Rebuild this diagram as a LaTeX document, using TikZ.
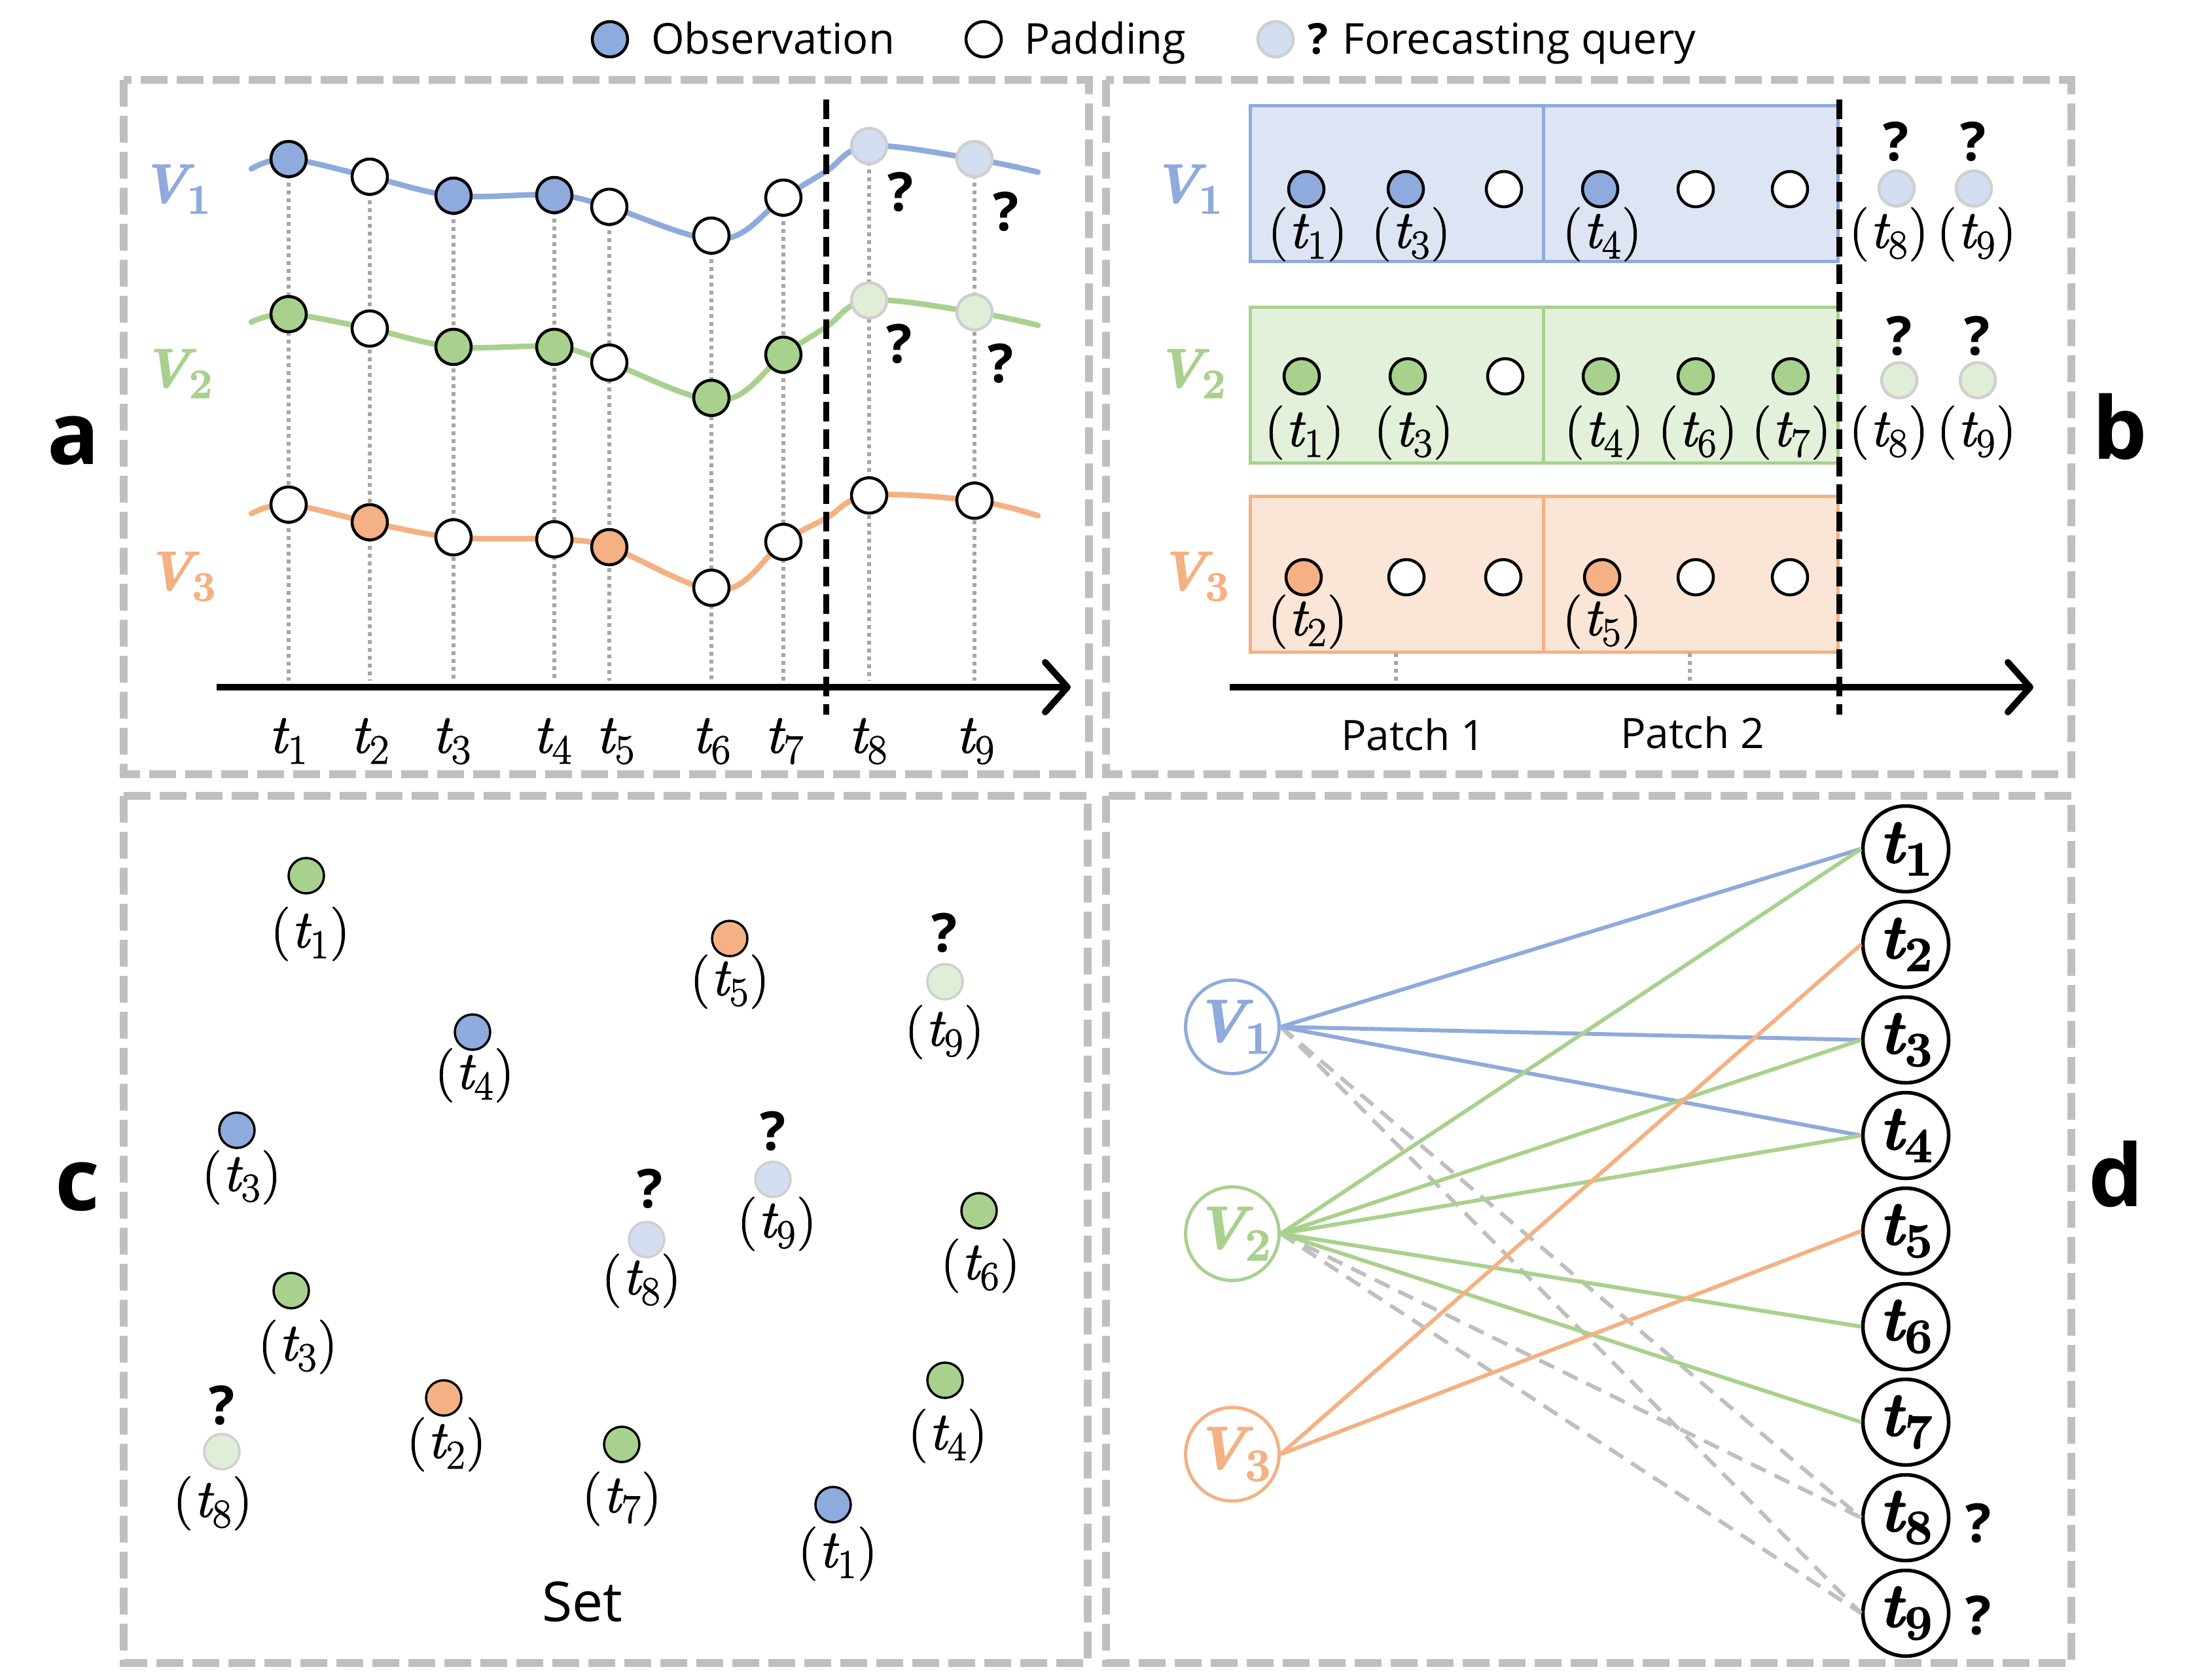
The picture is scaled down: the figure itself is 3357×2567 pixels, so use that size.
\documentclass[tikz,border=0pt]{standalone}
\usepackage{fontspec}
\newfontfamily\osans{Open Sans}
\newfontfamily\lmf[FakeBold=1.6]{Latin Modern Roman}
\usetikzlibrary{arrows.meta}
\definecolor{cblue}{HTML}{8FAADC}
\definecolor{cgreen}{HTML}{A9D18E}
\definecolor{corange}{HTML}{F4B183}
\definecolor{qblue}{HTML}{D3DEF1}
\definecolor{qgreen}{HTML}{E0EED7}
\definecolor{qborder}{HTML}{CFCFCF}
\definecolor{bblue}{HTML}{DDE5F4}
\definecolor{bgreen}{HTML}{E3F0DA}
\definecolor{borange}{HTML}{FBE5D7}
\definecolor{fgray}{HTML}{BFBFBF}
\definecolor{dgray}{HTML}{A6A6A6}
\newcommand{\sz}[1]{\fontsize{#1}{#1}\selectfont}
\newcommand{\ts}[1]{{\itshape t}\kern0.02em\raisebox{-0.2em}{\scalebox{0.76}{#1}}}
\newcommand{\pts}[1]{(\kern0.03em\ts{#1}\kern0.03em)}
\newcommand{\bts}[1]{{\bfseries\itshape t}\kern0.02em\raisebox{-0.2em}{\scalebox{0.78}{\bfseries #1}}}
\newcommand{\Vs}[1]{{\bfseries\itshape V}\kern-0.02em\raisebox{-0.2em}{\scalebox{0.76}{\bfseries #1}}}
\tikzset{
  frame/.style={draw=fgray, line width=12pt, dash pattern=on 41pt off 14pt},
  dotn/.style={circle, minimum size=54pt, inner sep=0pt, line width=4.5pt, draw=black},
  ob/.style={dotn, fill=cblue},
  og/.style={dotn, fill=cgreen},
  oo/.style={dotn, fill=corange},
  pd/.style={dotn, fill=white},
  qb/.style={dotn, draw=qborder, fill=qblue},
  qg/.style={dotn, draw=qborder, fill=qgreen},
  thinb/.style={line width=3.5pt},
  curve/.style={line width=8.5pt, line cap=round},
  vdots/.style={draw=dgray, line width=6pt, dash pattern=on 6pt off 6pt},
  bdash/.style={draw=black, line width=9pt, dash pattern=on 30pt off 12pt},
  axis/.style={draw=black, line width=10pt, -{Straight Barb[round, length=34pt, width=76pt]}},
  mlab/.style={font=\lmf\sz{82}, inner sep=0pt},
  tlab/.style={font=\lmf\sz{84}, inner sep=0pt, anchor=base},
  vlab/.style={font=\lmf\sz{84}, inner sep=0pt},
  qm/.style={font=\osans\bfseries\sz{82}, inner sep=0pt},
  stext/.style={font=\osans\sz{64}, inner sep=0pt},
  legtext/.style={font=\osans\sz{65}, inner sep=0pt, anchor=base west},
  plet/.style={font=\osans\bfseries\sz{132}, inner sep=0pt},
  box/.style={line width=5pt},
  tnode/.style={circle, draw=black, line width=5.5pt, minimum size=131pt, inner sep=0pt, font=\lmf\sz{96}},
  vnode/.style={circle, line width=5pt, minimum size=130pt, inner sep=0pt, font=\lmf\sz{92}},
  dedge/.style={line width=6pt},
  gedge/.style={draw=fgray, line width=6pt, dash pattern=on 25pt off 15pt},
}
\begin{document}
\begin{tikzpicture}[x=1pt,y=-1pt]
\useasboundingbox (0,0) rectangle (3357,2567);
\fill[white] (0,0) rectangle (3357,2567);

% ---------- legend ----------
\node[ob] (lgo) at (932,60) {};
\node[legtext] (lgot) at (995,82) {Observation};
\node[pd] (lgp) at (1503,60) {};
\node[legtext] (lgpt) at (1565,82) {Padding};
\node[qb] (lgq) at (1949,60) {};
\node[legtext] (lgqt) at (1998,82) {{\bfseries ?} Forecasting query};

% ---------- frames ----------
\draw[frame] (189,122) rectangle (1664,1183);
\draw[frame] (1690,122) rectangle (3165,1183);
\draw[frame] (189,1216) rectangle (1662,2541);
\draw[frame] (1690,1216) rectangle (3165,2541);

% ---------- panel letters ----------
\node[plet] (la) at (112,673) {a};
\node[plet] (lb) at (3239,652) {b};
\node[plet] (lc) at (118,1813) {c};
\node[plet] (ld) at (3233,1794) {d};

% ================= panel a =================
\node[vlab, text=cblue] (aV1) at (268,289) {\Vs{1}};
\node[vlab, text=cgreen] (aV2) at (271,571) {\Vs{2}};
\node[vlab, text=corange] (aV3) at (276,881) {\Vs{3}};

% dotted guides
\foreach \i/\x/\y in {1/441/243,2/565/270,3/693/299,4/847/298,5/931/316,6/1087/360,7/1197/302,8/1328/223,9/1489/243}{
  \coordinate (at\i) at (\x,\y);
  \coordinate (ab\i) at (\x,1040);
  \draw[vdots] (at\i) -- (ab\i);
}

% curves
\draw[curve, cblue] plot[smooth, tension=0.6] coordinates {(384,258) (441,243) (565,270) (693,299) (847,298) (931,316) (1100,366) (1197,302) (1262,262) (1328,223) (1489,243) (1586,263)};
\draw[curve, cgreen] plot[smooth, tension=0.6] coordinates {(384,492) (441,480) (565,502) (693,530) (847,530) (931,554) (1100,612) (1197,542) (1262,500) (1328,459) (1489,477) (1586,497)};
\draw[curve, corange] plot[smooth, tension=0.6] coordinates {(384,785) (441,771) (565,798) (693,821) (847,824) (931,836) (1100,902) (1197,828) (1262,792) (1328,757) (1489,765) (1586,788)};

% axis and split line
\coordinate (aAx0) at (331,1050);
\coordinate (aAx1) at (1636,1050);
\draw[axis] (aAx0) -- (aAx1);
\coordinate (aD0) at (1262,152);
\coordinate (aD1) at (1262,1092);
\draw[bdash] (aD0) -- (aD1);

% V1 row
\node[ob] (a11) at (441,243) {};
\node[pd] (a12) at (565,270) {};
\node[ob] (a13) at (693,299) {};
\node[ob] (a14) at (847,298) {};
\node[pd] (a15) at (931,316) {};
\node[pd] (a16) at (1087,360) {};
\node[pd] (a17) at (1197,302) {};
\node[qb] (a18) at (1328,223) {};
\node[qb] (a19) at (1489,243) {};
% V2 row
\node[og] (a21) at (441,480) {};
\node[pd] (a22) at (565,502) {};
\node[og] (a23) at (693,530) {};
\node[og] (a24) at (847,530) {};
\node[pd] (a25) at (931,554) {};
\node[og] (a26) at (1087,608) {};
\node[og] (a27) at (1197,542) {};
\node[qg] (a28) at (1328,459) {};
\node[qg] (a29) at (1489,477) {};
% V3 row
\node[pd] (a31) at (441,771) {};
\node[oo] (a32) at (565,798) {};
\node[pd] (a33) at (693,821) {};
\node[pd] (a34) at (847,824) {};
\node[oo] (a35) at (931,836) {};
\node[pd] (a36) at (1087,898) {};
\node[pd] (a37) at (1197,828) {};
\node[pd] (a38) at (1328,757) {};
\node[pd] (a39) at (1489,765) {};

% question marks
\node[qm] (aq1) at (1376,293) {?};
\node[qm] (aq2) at (1537,323) {?};
\node[qm] (aq3) at (1374,525) {?};
\node[qm] (aq4) at (1529,555) {?};

% time labels
\node[tlab] (al1) at (440,1150) {\ts{1}};
\node[tlab] (al2) at (565,1150) {\ts{2}};
\node[tlab] (al3) at (690,1150) {\ts{3}};
\node[tlab] (al4) at (844,1150) {\ts{4}};
\node[tlab] (al5) at (940,1150) {\ts{5}};
\node[tlab] (al6) at (1087,1150) {\ts{6}};
\node[tlab] (al7) at (1198,1150) {\ts{7}};
\node[tlab] (al8) at (1326,1150) {\ts{8}};
\node[tlab] (al9) at (1490,1150) {\ts{9}};

% ================= panel b =================
\node[vlab, text=cblue] (bV1) at (1814,289) {\Vs{1}};
\node[vlab, text=cgreen] (bV2) at (1819,571) {\Vs{2}};
\node[vlab, text=corange] (bV3) at (1824,881) {\Vs{3}};

\draw[box, draw=cblue, fill=bblue] (1910,161) rectangle (2358,399);
\draw[box, draw=cblue, fill=bblue] (2358,161) rectangle (2808,399);
\draw[box, draw=cgreen, fill=bgreen] (1910,469) rectangle (2358,707);
\draw[box, draw=cgreen, fill=bgreen] (2358,469) rectangle (2808,707);
\draw[box, draw=corange, fill=borange] (1910,758) rectangle (2358,996);
\draw[box, draw=corange, fill=borange] (2358,758) rectangle (2808,996);

% patch ticks and axis
\coordinate (bk1a) at (2133,998);
\coordinate (bk1b) at (2133,1044);
\coordinate (bk2a) at (2582,998);
\coordinate (bk2b) at (2582,1044);
\draw[vdots] (bk1a) -- (bk1b);
\draw[vdots] (bk2a) -- (bk2b);
\coordinate (bAx0) at (1879,1050);
\coordinate (bAx1) at (3107,1050);
\draw[axis] (bAx0) -- (bAx1);
\coordinate (bD0) at (2810,152);
\coordinate (bD1) at (2810,1092);
\draw[bdash] (bD0) -- (bD1);

% V1 row
\node[ob] (b11) at (1996,289) {};
\node[ob] (b12) at (2148,289) {};
\node[pd] (b13) at (2298,289) {};
\node[ob] (b14) at (2445,289) {};
\node[pd] (b15) at (2591,289) {};
\node[pd] (b16) at (2735,289) {};
\node[qb] (b18) at (2898,288) {};
\node[qb] (b19) at (3016,288) {};
\node[qm] (bq1) at (2897,216) {?};
\node[qm] (bq2) at (3015,216) {?};
\node[mlab] (bl11) at (1998,358) {\pts{1}};
\node[mlab] (bl12) at (2156,358) {\pts{3}};
\node[mlab] (bl14) at (2448,358) {\pts{4}};
\node[mlab] (bl18) at (2886,358) {\pts{8}};
\node[mlab] (bl19) at (3020,358) {\pts{9}};
% V2 row
\node[og] (b21) at (1989,575) {};
\node[og] (b22) at (2151,575) {};
\node[pd] (b23) at (2300,575) {};
\node[og] (b24) at (2446,575) {};
\node[og] (b25) at (2591,575) {};
\node[og] (b26) at (2736,575) {};
\node[qg] (b28) at (2902,581) {};
\node[qg] (b29) at (3022,581) {};
\node[qm] (bq3) at (2902,513) {?};
\node[qm] (bq4) at (3021,513) {?};
\node[mlab] (bl21) at (1993,661) {\pts{1}};
\node[mlab] (bl22) at (2160,661) {\pts{3}};
\node[mlab] (bl24) at (2451,661) {\pts{4}};
\node[mlab] (bl25) at (2594,661) {\pts{6}};
\node[mlab] (bl26) at (2737,661) {\pts{7}};
\node[mlab] (bl28) at (2886,661) {\pts{8}};
\node[mlab] (bl29) at (3020,661) {\pts{9}};
% V3 row
\node[oo] (b31) at (1992,882) {};
\node[pd] (b32) at (2149,882) {};
\node[pd] (b33) at (2297,882) {};
\node[oo] (b34) at (2448,882) {};
\node[pd] (b35) at (2591,882) {};
\node[pd] (b36) at (2735,882) {};
\node[mlab] (bl31) at (1998,950) {\pts{2}};
\node[mlab] (bl34) at (2448,950) {\pts{5}};

\node[stext] (bp1) at (2159,1122) {Patch 1};
\node[stext] (bp2) at (2586,1119) {Patch 2};

% ================= panel c =================
\node[og, thinb] (c1) at (468,1338) {};
\node[mlab] (cl1) at (474,1427) {\pts{1}};
\node[oo, thinb] (c2) at (1115,1434) {};
\node[mlab] (cl2) at (1115,1500) {\pts{5}};
\node[qg, thinb] (c3) at (1444,1500) {};
\node[qm] (cq3) at (1443,1425) {?};
\node[mlab] (cl3) at (1443,1577) {\pts{9}};
\node[ob, thinb] (c4) at (722,1577) {};
\node[mlab] (cl4) at (725,1643) {\pts{4}};
\node[ob, thinb] (c5) at (362,1727) {};
\node[mlab] (cl5) at (369,1799) {\pts{3}};
\node[qb, thinb] (c6) at (1181,1802) {};
\node[qm] (cq6) at (1181,1728) {?};
\node[mlab] (cl6) at (1187,1870) {\pts{9}};
\node[qb, thinb] (c7) at (988,1894) {};
\node[qm] (cq7) at (993,1816) {?};
\node[mlab] (cl7) at (980,1957) {\pts{8}};
\node[og, thinb] (c8) at (1496,1850) {};
\node[mlab] (cl8) at (1498,1934) {\pts{6}};
\node[og, thinb] (c9) at (445,1972) {};
\node[mlab] (cl9) at (455,2058) {\pts{3}};
\node[qg, thinb] (c10) at (339,2218) {};
\node[qm] (cq10) at (339,2147) {?};
\node[mlab] (cl10) at (325,2297) {\pts{8}};
\node[oo, thinb] (c11) at (678,2136) {};
\node[mlab] (cl11) at (682,2207) {\pts{2}};
\node[og, thinb] (c12) at (950,2207) {};
\node[mlab] (cl12) at (950,2290) {\pts{7}};
\node[og, thinb] (c13) at (1444,2109) {};
\node[mlab] (cl13) at (1448,2194) {\pts{4}};
\node[ob, thinb] (c14) at (1273,2299) {};
\node[mlab] (cl14) at (1280,2374) {\pts{1}};
\node[font=\osans\sz{84}, inner sep=0pt] (cset) at (890,2447) {Set};

% ================= panel d =================
\foreach \i in {1,...,9}{
  \node[tnode] (d\i) at (2912,{1297+146*(\i-1)}) {\bts{\i}};
}
\node[vnode, draw=cblue, text=cblue] (dV1) at (1883,1569) {\Vs{1}};
\node[vnode, draw=cgreen, text=cgreen] (dV2) at (1883,1885) {\Vs{2}};
\node[vnode, draw=corange, text=corange] (dV3) at (1883,2222) {\Vs{3}};

\draw[gedge] (dV1.east) -- (d8.west);
\draw[gedge] (dV1.east) -- (d9.west);
\draw[gedge] (dV2.east) -- (d8.west);
\draw[gedge] (dV2.east) -- (d9.west);
\draw[dedge, cblue] (dV1.east) -- (d1.west);
\draw[dedge, cblue] (dV1.east) -- (d3.west);
\draw[dedge, cblue] (dV1.east) -- (d4.west);
\draw[dedge, cgreen] (dV2.east) -- (d1.west);
\draw[dedge, cgreen] (dV2.east) -- (d3.west);
\draw[dedge, cgreen] (dV2.east) -- (d4.west);
\draw[dedge, cgreen] (dV2.east) -- (d6.west);
\draw[dedge, cgreen] (dV2.east) -- (d7.west);
\draw[dedge, corange] (dV3.east) -- (d2.west);
\draw[dedge, corange] (dV3.east) -- (d5.west);

\node[qm] (dq8) at (3023,2327) {?};
\node[qm] (dq9) at (3023,2468) {?};
\end{tikzpicture}
\end{document}
